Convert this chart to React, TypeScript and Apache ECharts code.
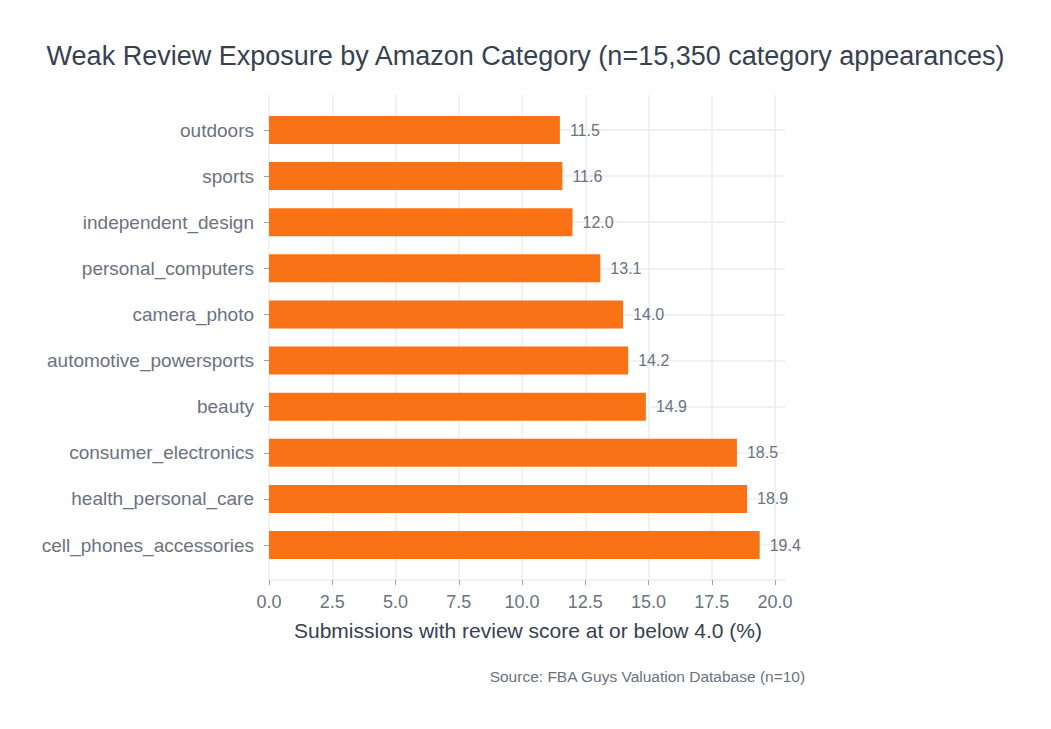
import React, { useEffect, useRef } from "react";
import * as echarts from "echarts";

const categories = [
  "outdoors",
  "sports",
  "independent_design",
  "personal_computers",
  "camera_photo",
  "automotive_powersports",
  "beauty",
  "consumer_electronics",
  "health_personal_care",
  "cell_phones_accessories",
];
const values = [11.5, 11.6, 12.0, 13.1, 14.0, 14.2, 14.9, 18.5, 18.9, 19.4];
const titleText = "Weak Review Exposure by Amazon Category (n=15,350 category appearances)";
const xAxisTitle = "Submissions with review score at or below 4.0 (%)";
const sourceText = "Source: FBA Guys Valuation Database (n=10)";

const FONT = "Liberation Sans, Helvetica, Arial, sans-serif";
const GRID_COLOR = "#ebedf2";
const LABEL_COLOR = "#6b7280";
const DARK = "#374151";

export default function App() {
  const ref = useRef<HTMLDivElement>(null);
  useEffect(() => {
    document.body.style.margin = "0";
    if (!ref.current) return;
    const chart = echarts.init(ref.current, undefined, { renderer: "svg" });
    chart.setOption({
      animation: false,
      backgroundColor: "#ffffff",
      textStyle: { fontFamily: FONT },
      title: {
        text: titleText,
        left: "center",
        top: 37,
        textStyle: { fontFamily: FONT, fontSize: 27, fontWeight: "normal", color: DARK },
      },
      grid: [
        { left: 269, right: 276, top: 95, bottom: 149, containLabel: false },
        { left: 269, right: 266, top: 130, bottom: 184, containLabel: false },
      ],
      xAxis: [
        {
          type: "value",
          gridIndex: 0,
          min: 0,
          max: 20,
          interval: 2.5,
          axisLine: { show: false },
          axisTick: { show: true, length: 5, lineStyle: { color: "#9ca3af" } },
          axisLabel: {
            color: LABEL_COLOR,
            fontSize: 18,
            margin: 13,
            formatter: (v: number) => v.toFixed(1),
          },
          splitLine: { show: true, lineStyle: { color: GRID_COLOR, width: 1.5 } },
          name: xAxisTitle,
          nameLocation: "middle",
          nameGap: 40,
          nameTextStyle: { color: DARK, fontSize: 21, fontFamily: FONT, padding: [0, 0, 0, 12] },
        },
        {
          type: "value",
          gridIndex: 1,
          min: 0,
          max: 20.4,
          offset: 35,
          axisLine: { show: true, lineStyle: { color: GRID_COLOR, width: 1.5 } },
          axisTick: { show: false },
          axisLabel: { show: false },
          splitLine: { show: false },
        },
      ],
      yAxis: [
        { type: "value", gridIndex: 0, show: false, min: 0, max: 1 },
        {
          type: "category",
          gridIndex: 1,
          data: categories,
          inverse: true,
          boundaryGap: false,
          axisLine: { show: false },
          axisTick: { show: true, length: 5, lineStyle: { color: "#9ca3af" } },
          axisLabel: { color: LABEL_COLOR, fontSize: 19, margin: 15 },
          splitLine: { show: true, lineStyle: { color: GRID_COLOR, width: 1.5 } },
        },
      ],
      series: [
        {
          type: "bar",
          xAxisIndex: 1,
          yAxisIndex: 1,
          data: values,
          barWidth: 28,
          itemStyle: { color: "#f97316" },
          label: {
            show: true,
            position: "right",
            distance: 10,
            color: LABEL_COLOR,
            fontSize: 16,
            formatter: (p: any) => Number(p.value).toFixed(1),
          },
        },
      ],
      graphic: [
        {
          type: "text",
          right: 1051 - 806,
          top: 668,
          style: { text: sourceText, fill: LABEL_COLOR, fontSize: 15.5, fontFamily: FONT },
        },
      ],
    });
    return () => chart.dispose();
  }, []);
  return <div ref={ref} style={{ width: 1051, height: 729 }} />;
}
